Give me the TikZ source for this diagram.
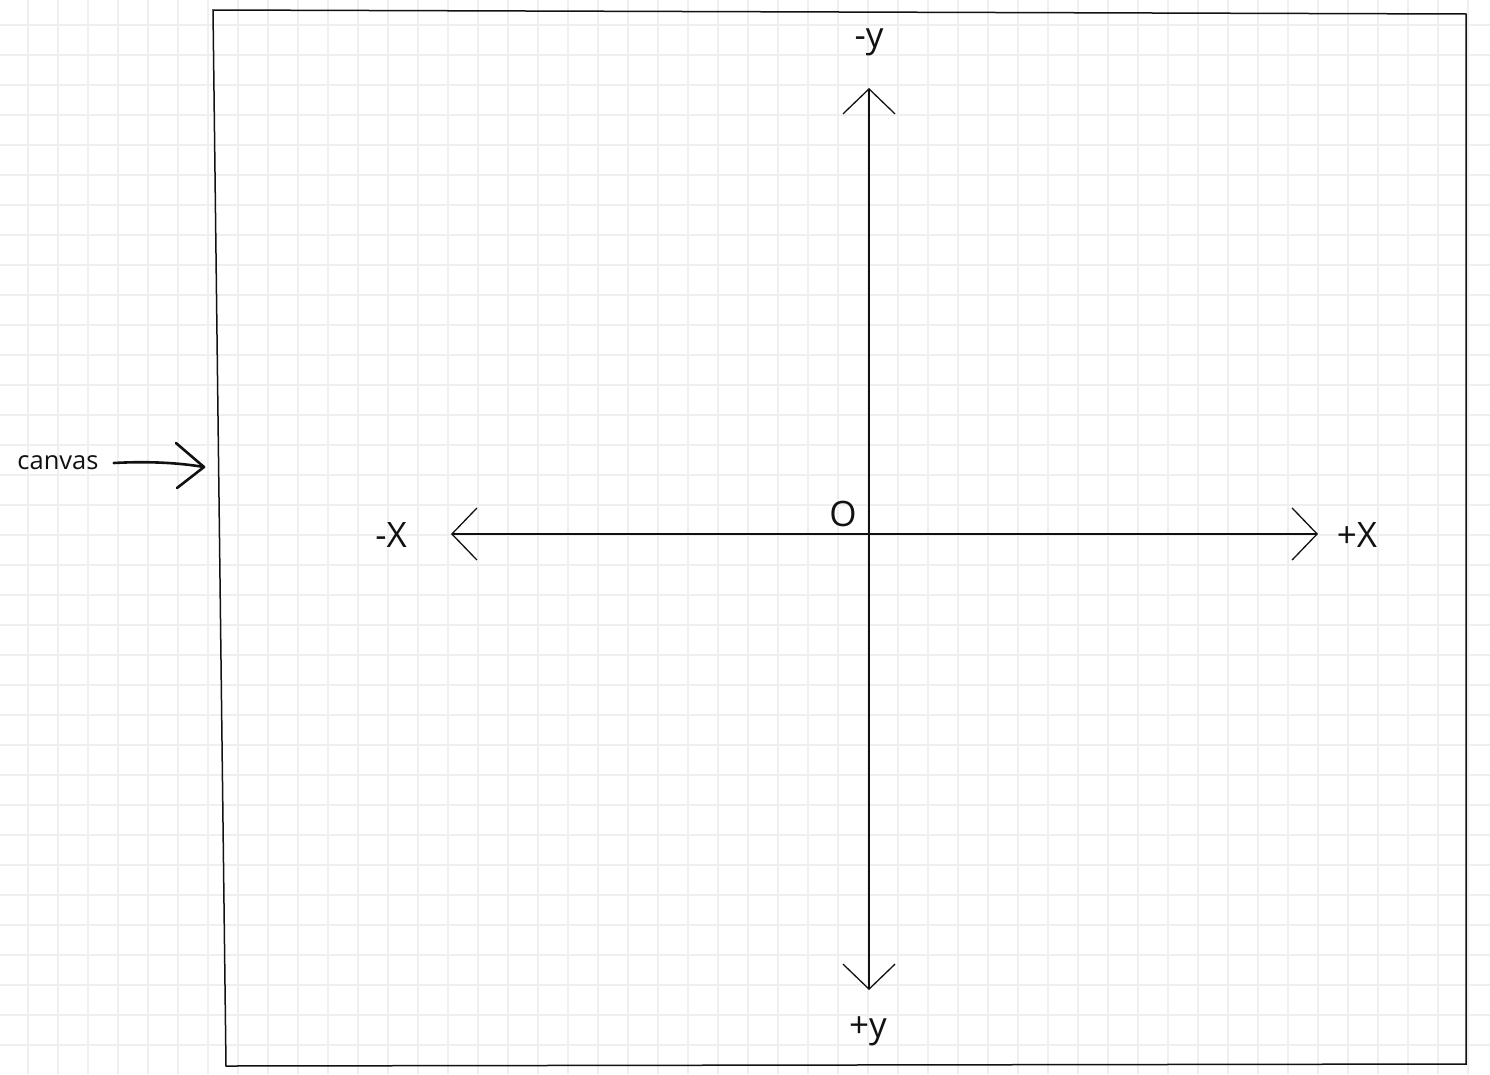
\documentclass[tikz,border=0pt]{standalone}
\usepackage{fontspec}
\setmainfont{Open Sans}
\usetikzlibrary{arrows.meta,positioning}
\definecolor{ink}{HTML}{111111}
\definecolor{gridcol}{HTML}{EFEFEF}

\begin{document}
\begin{tikzpicture}[x=1pt,y=-1pt]
 \tikzstyle{gridline}=[draw=gridcol,line width=1.3pt]
 \tikzstyle{frame}=[draw=ink,line width=1.5pt,line join=miter]
 \tikzstyle{axis}=[draw=ink,line width=1.3pt,-{Straight Barb[length=25pt,width=52pt,line width=1.3pt]}]
 \tikzstyle{axlbl}=[text=ink,inner sep=0pt,font=\fontsize{35}{38}\selectfont]
 \tikzstyle{sidelbl}=[text=ink,inner sep=0pt,font=\fontsize{25.5}{29}\selectfont]
 \useasboundingbox (0,0) rectangle (1490,1074);
 \fill[white] (0,0) rectangle (1490,1074);
 % background grid
 \foreach \gx in {28,58,...,1490} \draw[gridline] (\gx,0) -- (\gx,1074);
 \foreach \gy in {25,55,...,1074} \draw[gridline] (0,\gy) -- (1490,\gy);
 % canvas frame
 \draw[frame] (213,10) -- (1466,14) -- (1466,1064) -- (226,1066) -- cycle;
 % axes
 \coordinate (origin) at (869,534);
 \coordinate (ytop) at (869,88);
 \coordinate (ybot) at (869,990);
 \coordinate (xleft) at (451,534);
 \coordinate (xright) at (1318,534);
 \draw[axis] (origin) -- (ytop);
 \draw[axis] (origin) -- (ybot);
 \draw[axis] (origin) -- (xleft);
 \draw[axis] (origin) -- (xright);
 \node[axlbl] (ny) at (869,42) {-y};
 \node[axlbl] (py) at (868,1031) {+y};
 \node[axlbl] (nx) at (391,535) {-X};
 \node[axlbl] (px) at (1357,535) {+X};
 \node[axlbl] (o) at (843,514) {O};
 % canvas pointer
 \node[sidelbl] (canvas) at (58,463) {canvas};
 \coordinate (edge) at (204,467);
 \draw[ink,line width=2.6pt,line cap=round] (canvas.east) ++(15,0) .. controls (150,461) and (180,463) .. (edge);
 \draw[ink,line width=2.6pt,line cap=round,line join=round] (176,443) -- (edge) -- (177,488);
\end{tikzpicture}
\end{document}
